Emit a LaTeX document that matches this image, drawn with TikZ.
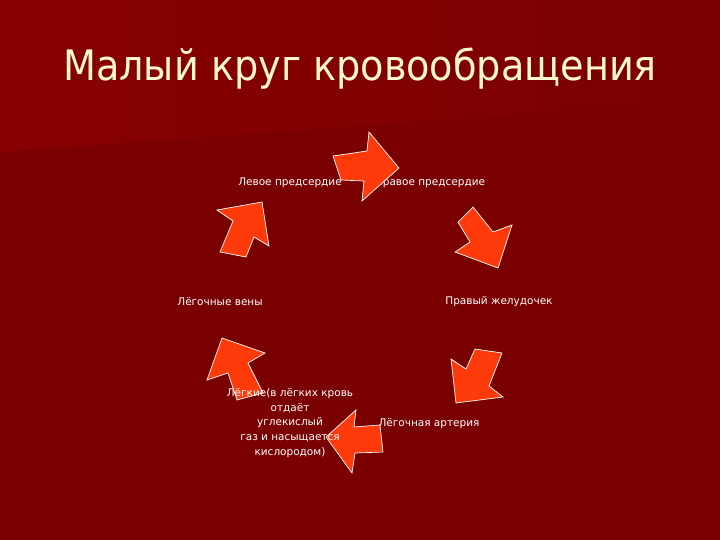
\documentclass[tikz,border=0pt]{standalone}
\usepackage{fontspec}
\setmainfont{DejaVu Sans}
\newfontfamily\ttlfont[FakeStretch=0.91]{DejaVu Sans}
\definecolor{bgmain}{HTML}{7A0000}
\definecolor{bglight}{HTML}{880000}
\definecolor{arrowfill}{HTML}{FF3A0A}
\definecolor{titlecol}{HTML}{FFF8CC}
\tikzset{
  blockarrow/.style={fill=arrowfill, draw=white, line width=0.7pt, line join=miter},
  lbl/.style={text=white, font=\fontsize{10.5}{14.7}\selectfont, inner sep=0pt},
  ttl/.style={text=titlecol, font=\ttlfont\fontsize{42}{46}\selectfont, inner sep=0pt}
}
\begin{document}
\begin{tikzpicture}[x=1pt,y=-1pt]
\useasboundingbox (0,0) rectangle (720,540);
% background
\fill[bgmain] (0,0) rectangle (720,540);
\shade[left color=bglight, right color=bgmain] (0,0) -- (720,0) -- (720,100) -- (0,152) -- cycle;
% title
\node[ttl] (title) at (360,69) {Малый круг кровообращения};
% label drawn below arrows
\node[lbl] (pravpred) at (430,183) {Правое предсердие};
% arrows
\draw[blockarrow] (333,156) -- (367,151) -- (369,132) -- (399,168) -- (362,201) -- (364,181) -- (341,180) -- cycle;
\draw[blockarrow] (473,207) -- (493,232) -- (512,225) -- (498,268) -- (455,252) -- (470,242) -- (458,222) -- cycle;
\draw[blockarrow] (475,349) -- (502,353) -- (489,386) -- (503,397) -- (456,403) -- (451,359) -- (466,369) -- cycle;
\draw[blockarrow] (356,410) -- (354,427) -- (380,425) -- (383,452) -- (355,453) -- (352,473) -- (326,437) -- cycle;
\draw[blockarrow] (222,338) -- (265,353) -- (248,363) -- (263,393) -- (237,400) -- (228,373) -- (207,380) -- cycle;
\draw[blockarrow] (217,210) -- (262,202) -- (269,246) -- (254,237) -- (246,257) -- (220,252) -- (233,221) -- cycle;
% labels
\node[lbl] (levpred) at (290,183) {Левое предсердие};
\node[lbl] (pravzhel) at (499,302) {Правый желудочек};
\node[lbl] (legven) at (220,302) {Лёгочные вены};
\node[lbl] (legart) at (429,424) {Лёгочная артерия};
\node[lbl, align=center] (legkie) at (290,423) {Лёгкие(в лёгких кровь\\отдаёт\\углекислый\\газ и насыщается\\кислородом)};
\end{tikzpicture}
\end{document}
